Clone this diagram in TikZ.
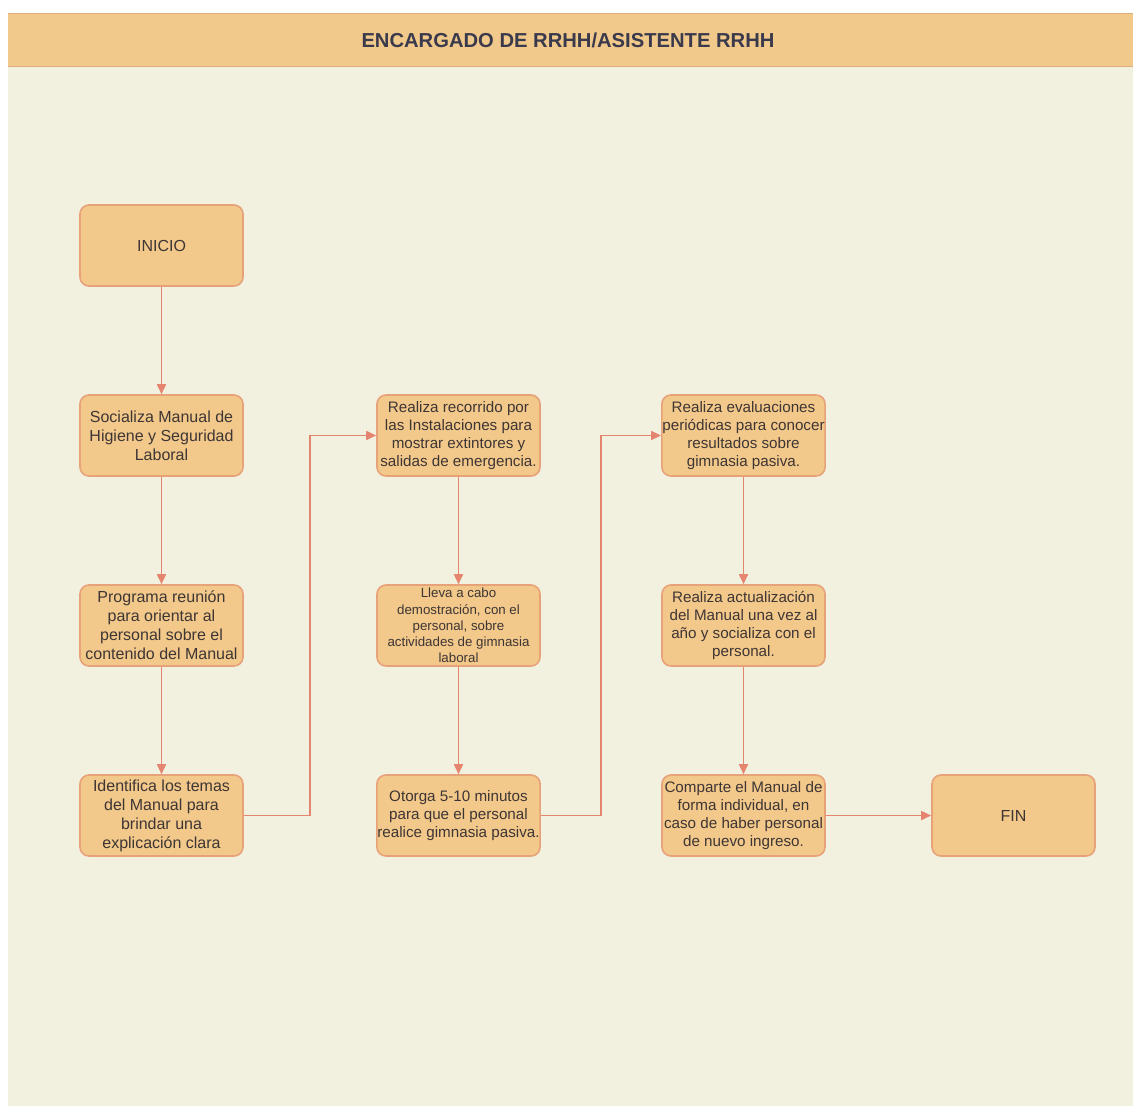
\documentclass[tikz,border=0pt]{standalone}
\usepackage{fontspec}
\setmainfont{Liberation Sans}
\usetikzlibrary{arrows.meta}
\definecolor{pagebg}{HTML}{F2F0DF}
\definecolor{headbg}{HTML}{F0C98B}
\definecolor{headline}{HTML}{DDAE7C}
\definecolor{boxfill}{HTML}{F2C98A}
\definecolor{boxline}{HTML}{E8A27A}
\definecolor{arrowcol}{HTML}{E6856F}
\definecolor{txtcol}{HTML}{3E3535}
\definecolor{titlecol}{HTML}{3A3A4C}
\begin{document}
\begin{tikzpicture}[x=1pt,y=-1pt,
  stepbox/.style={rectangle, rounded corners=9pt, draw=boxline, fill=boxfill,
    line width=1.6pt, minimum width=163pt, minimum height=81pt, inner sep=0.5pt,
    align=center, text=txtcol, font=\fontsize{16}{19}\selectfont},
  midtext/.style={font=\fontsize{15.2}{18}\selectfont},
  smalltext/.style={font=\fontsize{13.3}{16.2}\selectfont},
  flow/.style={draw=arrowcol, line width=1.7pt,
    -{Triangle[length=10pt,width=9pt,fill=arrowcol]}}]
\useasboundingbox (0,0) rectangle (1133,1106);
\fill[pagebg] (8,13) rectangle (1133,1106);
\fill[headbg] (8,13) rectangle (1133,67);
\draw[headline, line width=1.2pt] (8,13.5) -- (1133,13.5);
\draw[headline, line width=1.5pt] (8,66.5) -- (1133,66.5);
\node[text=titlecol, font=\fontsize{20.2}{23}\selectfont\bfseries] (title) at (568,40) {ENCARGADO DE RRHH/ASISTENTE RRHH};

\node[stepbox] (inicio) at (161.5,245.5) {INICIO};
\node[stepbox] (s1) at (161.5,435.5) {Socializa Manual de\\Higiene y Seguridad\\Laboral};
\node[stepbox] (s2) at (161.5,625.5) {Programa reunión\\para orientar al\\personal sobre el\\contenido del Manual};
\node[stepbox] (s3) at (161.5,815.5) {Identifica los temas\\del Manual para\\brindar una\\explicación clara};

\node[stepbox, midtext] (r1) at (458.5,435.5) {Realiza recorrido por\\las Instalaciones para\\mostrar extintores y\\salidas de emergencia.};
\node[stepbox, smalltext] (r2) at (458.5,625.5) {Lleva a cabo\\demostración, con el\\personal, sobre\\actividades de gimnasia\\laboral};
\node[stepbox, midtext] (r3) at (458.5,815.5) {Otorga 5-10 minutos\\para que el personal\\realice gimnasia pasiva.};

\node[stepbox, midtext] (e1) at (743.5,435.5) {Realiza evaluaciones\\periódicas para conocer\\resultados sobre\\gimnasia pasiva.};
\node[stepbox, midtext] (e2) at (743.5,625.5) {Realiza actualización\\del Manual una vez al\\año y socializa con el\\personal.};
\node[stepbox, midtext] (e3) at (743.5,815.5) {Comparte el Manual de\\forma individual, en\\caso de haber personal\\de nuevo ingreso.};

\node[stepbox] (fin) at (1013.5,815.5) {FIN};

\draw[flow] (inicio) -- (s1);
\draw[flow] (s1) -- (s2);
\draw[flow] (s2) -- (s3);
\draw[flow] (s3.east) -- (310,815.5) |- (r1.west);
\draw[flow] (r1) -- (r2);
\draw[flow] (r2) -- (r3);
\draw[flow] (r3.east) -- (601,815.5) |- (e1.west);
\draw[flow] (e1) -- (e2);
\draw[flow] (e2) -- (e3);
\draw[flow] (e3) -- (fin);
\end{tikzpicture}
\end{document}
